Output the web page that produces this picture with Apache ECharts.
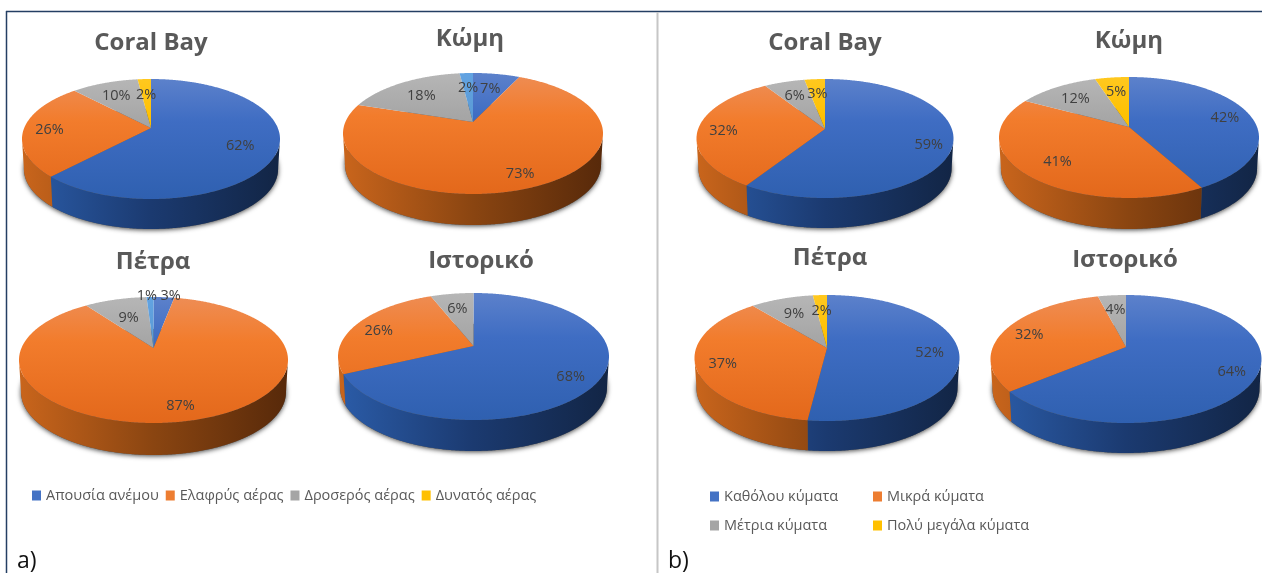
<!DOCTYPE html>
<html>
<head>
<meta charset="utf-8">
<script src="https://cdn.jsdelivr.net/npm/echarts@6/dist/echarts.min.js"></script>
<style>html,body{margin:0;padding:0;background:#fff}#c{width:1262px;height:573px}</style>
</head>
<body>
<div id="c"></div>
<script>
// Share of observations per site, in percent
const pieTitles = ['Coral Bay', 'Κώμη', 'Πέτρα', 'Ιστορικό'];
const windCategories = ['Απουσία ανέμου', 'Ελαφρύς αέρας', 'Δροσερός αέρας', 'Δυνατός αέρας'];
const waveCategories = ['Καθόλου κύματα', 'Μικρά κύματα', 'Μέτρια κύματα', 'Πολύ μεγάλα κύματα'];
const windCoralBay = [62, 26, 10, 2];
const windKomi = [7, 73, 18, 2];
const windPetra = [3, 87, 9, 1];
const windHistoric = [68, 26, 6, 0];
const waveCoralBay = [59, 32, 6, 3];
const waveKomi = [42, 41, 12, 5];
const wavePetra = [52, 37, 9, 2];
const waveHistoric = [64, 32, 4, 0];

const FONT = '"Open Sans", "Noto Sans", sans-serif';

// Colour ramps: vertical on the top face, horizontal on the rim
const faces = [
  { key: '#4472c4', top: ['#5c81cb', '#3f6dc3', '#2f60b0'], side: ['#2b5ca8', '#1b3a70', '#122545'] },
  { key: '#ed7d31', top: ['#ee8d55', '#f27c2c', '#e3681b'], side: ['#c9651c', '#8a4511', '#57290a'] },
  { key: '#a5a5a5', top: ['#b6b6b6', '#a6a6a6', '#999999'], side: ['#8a8a8a', '#666666', '#444444'] },
  { key: '#ffc000', top: ['#ffc81f', '#ffc000', '#f2b600'], side: ['#c89600', '#8f6b00', '#5e4600'] }
];
const altFourth = { top: ['#62a3e2', '#5b9bd5', '#5092d0'], side: ['#4a7fb0', '#35608a', '#23425f'] };

// Placement of each pie on the page. reach = how far out each value label sits,
// nudge = sideways shift for labels that would otherwise collide.
const pies = [
  { v: windCoralBay, cx: 151, apex: 128, top: 79, bottom: 199, rx: 129, depth: 30, reach: [.72, .8, .72, .68] },
  { v: windKomi, cx: 473, apex: 122, top: 73, bottom: 194, rx: 130, depth: 31, fourth: altFourth, reach: [.7, .8, .7, .7] },
  { v: windPetra, cx: 153.5, apex: 348, top: 297, bottom: 423, rx: 134.5, depth: 32, fourth: altFourth, reach: [1.08, .8, .62, 1.08], nudge: [6, 0, 0, -3] },
  { v: windHistoric, cx: 473.5, apex: 346, top: 293, bottom: 420, rx: 135.5, depth: 31, reach: [.8, .8, .72, 1] },
  { v: waveCoralBay, cx: 825, apex: 129, top: 79, bottom: 198, rx: 128.5, depth: 30, reach: [.82, .8, .72, .72] },
  { v: waveKomi, cx: 1129, apex: 127, top: 77, bottom: 198, rx: 130, depth: 31, reach: [.8, .72, .72, .72] },
  { v: wavePetra, cx: 827, apex: 348, top: 295, bottom: 421, rx: 132.5, depth: 30, reach: [.78, .8, .7, .72] },
  { v: waveHistoric, cx: 1126, apex: 347, top: 295, bottom: 423, rx: 135.5, depth: 30, reach: [.82, .8, .72, 1] }
];
const titleSpots = [[151, 43], [470, 39], [153, 262], [481, 261], [825, 43], [1129, 41], [830, 258], [1125, 260]];

// Perspective view of a flat disc: theta is clockwise from twelve o'clock,
// r is the fraction of the disc radius.
function project(p, theta, r) {
  const up = p.apex - p.top, down = p.bottom - p.apex;
  const k = (down - up) / (down + up);
  const a = p.rx * Math.sqrt(1 - k * k), b = up * (1 + k);
  const u = Math.sin(theta) * r, v = -Math.cos(theta) * r;
  const w = 1 - k * v;
  return [p.cx + a * u / w, p.apex + b * v / w];
}
const lowerRim = (p, pt) => [p.cx + (pt[0] - p.cx) * 0.985, pt[1] + p.depth];

function ramp(stops, mid, x, y, x2, y2) {
  return {
    type: 'linear', global: true, x, y, x2, y2,
    colorStops: [{ offset: 0, color: stops[0] }, { offset: mid, color: stops[1] }, { offset: 1, color: stops[2] }]
  };
}

function arcPoints(p, from, to) {
  const pts = [], n = Math.max(2, Math.ceil((to - from) / (Math.PI / 360)));
  for (let i = 0; i <= n; i++) pts.push(project(p, from + (to - from) * i / n, 1));
  return pts;
}

// One slice of one pie: rim wall, top face and value label
function renderSlice(catIndex, pieIndex) {
  const p = pies[pieIndex];
  const value = p.v[catIndex];
  const before = p.v.slice(0, catIndex).reduce((s, x) => s + x, 0);
  const total = p.v.reduce((s, x) => s + x, 0);
  const from = before / total * Math.PI * 2, to = (before + value) / total * Math.PI * 2;
  const look = catIndex === 3 && p.fourth ? p.fourth : faces[catIndex];
  const rim = arcPoints(p, from, to);
  const children = [];

  const midY = (p.top + p.bottom) / 2;
  const front = rim.filter(pt => pt[1] >= midY);
  if (front.length > 1) {
    children.push({
      type: 'polygon',
      shape: { points: front.concat(front.map(pt => lowerRim(p, pt)).reverse()) },
      style: { fill: ramp(look.side, 0.5, p.cx - p.rx, 0, p.cx + p.rx, 0) }
    });
  }
  children.push({
    type: 'polygon',
    shape: { points: [project(p, 0, 0)].concat(rim) },
    style: { fill: ramp(look.top, 0.35, 0, p.top, 0, p.bottom) },
    z2: 5
  });
  const at = project(p, (from + to) / 2, p.reach[catIndex]);
  children.push({
    type: 'text',
    z2: 50,
    style: {
      text: value + '%', x: at[0] + (p.nudge ? p.nudge[catIndex] : 0), y: at[1] + 2,
      align: 'center', verticalAlign: 'middle',
      font: '14.5px ' + FONT, fill: '#404040'
    }
  });
  return { type: 'group', children };
}

// Soft contact shadow under each pie
function renderShadow(params) {
  const p = pies[params.dataIndex];
  const ring = arcPoints(p, 0, Math.PI * 2).map(pt => lowerRim(p, pt));
  return {
    type: 'polygon',
    shape: { points: ring },
    style: { fill: '#555555', shadowBlur: 5, shadowColor: 'rgba(0,0,0,0.75)', shadowOffsetY: 1 }
  };
}

// Four series per panel, one for each legend entry, holding that category's value in each pie
function panelSeries(names, firstPie) {
  return names.map((name, catIndex) => ({
    type: 'custom',
    name,
    coordinateSystem: 'none',
    silent: true,
    animation: false,
    itemStyle: { color: faces[catIndex].key },
    data: [0, 1, 2, 3]
      .filter(i => pies[firstPie + i].v[catIndex] > 0)
      .map(i => [firstPie + i, pies[firstPie + i].v[catIndex]]),
    renderItem: (params, api) => renderSlice(catIndex, api.value(0))
  }));
}

const legendText = { color: '#595959', fontSize: 14.5, fontFamily: FONT };
const legendBase = {
  icon: 'rect', itemWidth: 9, itemHeight: 10, selectedMode: false, textStyle: legendText, padding: 0
};

const chart = echarts.init(document.getElementById('c'));
chart.setOption({
  backgroundColor: '#ffffff',
  animation: false,
  title: pieTitles.concat(pieTitles).map((text, i) => ({
    text,
    left: titleSpots[i][0],
    top: titleSpots[i][1] - 18,
    textAlign: 'center',
    padding: 0,
    textStyle: { color: '#595959', fontSize: 24, fontWeight: 'bold', fontFamily: FONT, lineHeight: 36 }
  })),
  legend: [
    Object.assign({}, legendBase, { left: 32, top: 488, itemGap: 7, data: windCategories }),
    Object.assign({}, legendBase, { left: 710, top: 489, orient: 'vertical', itemGap: 14, data: [waveCategories[0], waveCategories[2]] }),
    Object.assign({}, legendBase, { left: 873, top: 489, orient: 'vertical', itemGap: 14, data: [waveCategories[1], waveCategories[3]] })
  ],
  graphic: [
    { type: 'line', silent: true, shape: { x1: 6, y1: 11.5, x2: 1262, y2: 11.5 }, style: { stroke: '#243f63', lineWidth: 1.5 } },
    { type: 'line', silent: true, shape: { x1: 6.5, y1: 11, x2: 6.5, y2: 573 }, style: { stroke: '#243f63', lineWidth: 1.5 } },
    { type: 'line', silent: true, shape: { x1: 657.5, y1: 12, x2: 657.5, y2: 573 }, style: { stroke: '#c6c6c6', lineWidth: 2 } },
    { type: 'text', silent: true, style: { text: 'a)', x: 17, y: 561, verticalAlign: 'middle', font: '23px ' + FONT, fill: '#111111' } },
    { type: 'text', silent: true, style: { text: 'b)', x: 668, y: 561, verticalAlign: 'middle', font: '23px ' + FONT, fill: '#111111' } }
  ],
  series: [{
    type: 'custom',
    name: 'shadow',
    coordinateSystem: 'none',
    silent: true,
    animation: false,
    data: pies.map((p, i) => [i]),
    renderItem: renderShadow
  }].concat(panelSeries(windCategories, 0), panelSeries(waveCategories, 4))
});
</script>
</body>
</html>
